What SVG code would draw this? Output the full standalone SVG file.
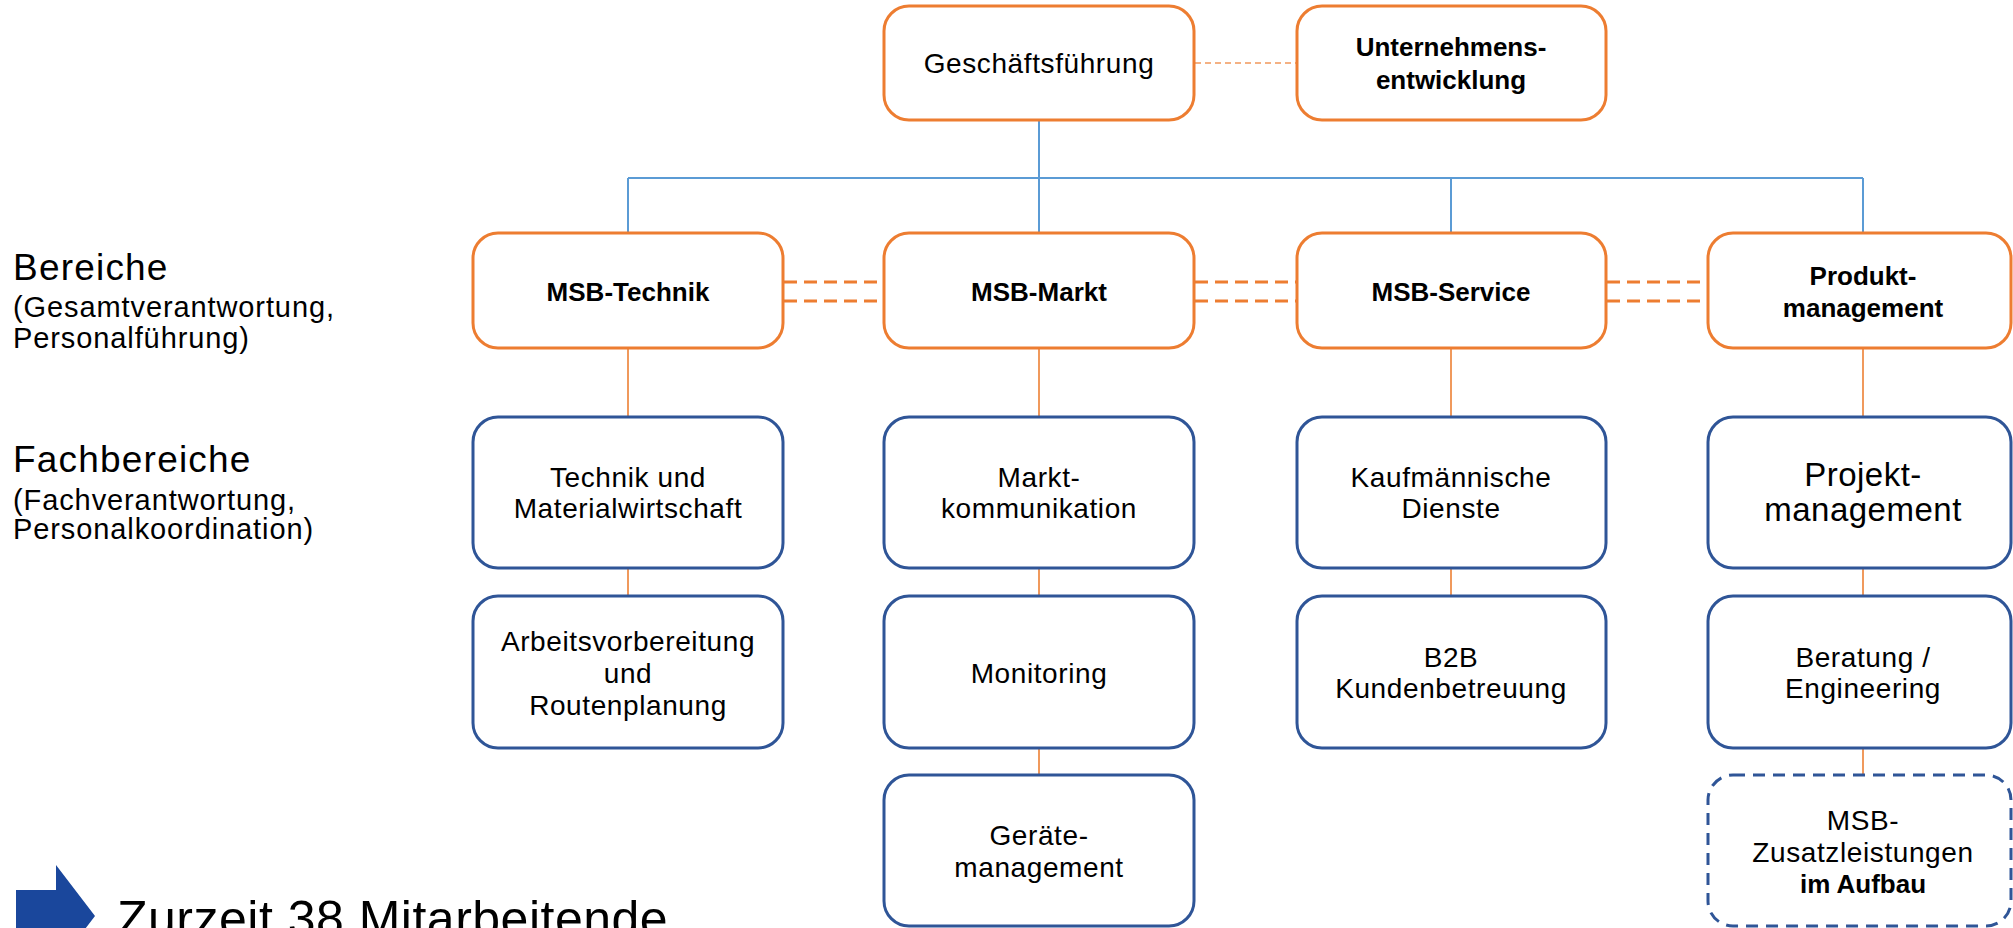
<svg xmlns="http://www.w3.org/2000/svg" width="2013" height="928" viewBox="0 0 2013 928">
<style>
  .ob { fill: #ffffff; stroke: #ED7D31; stroke-width: 3; }
  .bb { fill: #ffffff; stroke: #2F5597; stroke-width: 3; }
  .db { fill: #ffffff; stroke: #2F5597; stroke-width: 3; stroke-dasharray: 12 8; }
  .t { font-family: "Liberation Sans", Arial, sans-serif; font-size: 28px; letter-spacing: 0.6px; fill: #000000; text-anchor: middle; }
  .tb { font-family: "Liberation Sans", Arial, sans-serif; font-size: 26px; font-weight: bold; fill: #000000; text-anchor: middle; }
  .tl { font-family: "Liberation Sans", Arial, sans-serif; font-size: 33px; letter-spacing: 0.5px; fill: #000000; text-anchor: middle; }
  .lab { font-family: "Liberation Sans", Arial, sans-serif; font-size: 37px; letter-spacing: 1.2px; fill: #000000; }
  .sub { font-family: "Liberation Sans", Arial, sans-serif; font-size: 29px; letter-spacing: 0.9px; fill: #000000; }
  .cb { stroke: #5B9BD5; stroke-width: 2; fill: none; }
  .co { stroke: #F0995C; stroke-width: 2; fill: none; }
  .cd { stroke: #ED7D31; stroke-width: 3; stroke-dasharray: 13 7; fill: none; }
  .cdl { stroke: #F4B183; stroke-width: 2; stroke-dasharray: 6 4; fill: none; }
</style>

<g id="connectors">
  <line class="cdl" x1="1195" y1="63" x2="1296" y2="63"/>
  <line class="cb" x1="1039" y1="120" x2="1039" y2="233"/>
  <line class="cb" x1="628" y1="178" x2="1863" y2="178"/>
  <line class="cb" x1="628" y1="178" x2="628" y2="233"/>
  <line class="cb" x1="1451" y1="178" x2="1451" y2="233"/>
  <line class="cb" x1="1863" y1="178" x2="1863" y2="233"/>
  <line class="cd" x1="784" y1="282" x2="884" y2="282"/>
  <line class="cd" x1="784" y1="301" x2="884" y2="301"/>
  <line class="cd" x1="1195" y1="282" x2="1296" y2="282"/>
  <line class="cd" x1="1195" y1="301" x2="1296" y2="301"/>
  <line class="cd" x1="1607" y1="282" x2="1708" y2="282"/>
  <line class="cd" x1="1607" y1="301" x2="1708" y2="301"/>
  <line class="co" x1="628" y1="349" x2="628" y2="417"/>
  <line class="co" x1="1039" y1="349" x2="1039" y2="417"/>
  <line class="co" x1="1451" y1="349" x2="1451" y2="417"/>
  <line class="co" x1="1863" y1="349" x2="1863" y2="417"/>
  <line class="co" x1="628" y1="568" x2="628" y2="596"/>
  <line class="co" x1="1039" y1="568" x2="1039" y2="596"/>
  <line class="co" x1="1451" y1="568" x2="1451" y2="596"/>
  <line class="co" x1="1863" y1="568" x2="1863" y2="596"/>
  <line class="co" x1="1039" y1="748" x2="1039" y2="775"/>
  <line class="co" x1="1863" y1="748" x2="1863" y2="775"/>
</g>

<g id="gf">
  <rect class="ob" x="884" y="6" width="310" height="114" rx="25"/>
  <text class="t" x="1039" y="73">Geschäftsführung</text>
</g>
<g id="ue">
  <rect class="ob" x="1297" y="6" width="309" height="114" rx="25"/>
  <text class="tb" x="1451" y="56">Unternehmens-</text>
  <text class="tb" x="1451" y="89">entwicklung</text>
</g>

<g id="msb-technik">
  <rect class="ob" x="473" y="233" width="310" height="115" rx="25"/>
  <text class="tb" x="628" y="301">MSB-Technik</text>
</g>
<g id="msb-markt">
  <rect class="ob" x="884" y="233" width="310" height="115" rx="25"/>
  <text class="tb" x="1039" y="301">MSB-Markt</text>
</g>
<g id="msb-service">
  <rect class="ob" x="1297" y="233" width="309" height="115" rx="25"/>
  <text class="tb" x="1451" y="301">MSB-Service</text>
</g>
<g id="produktmanagement">
  <rect class="ob" x="1708" y="233" width="303" height="115" rx="25"/>
  <text class="tb" x="1863" y="285">Produkt-</text>
  <text class="tb" x="1863" y="317">management</text>
</g>

<g id="technik-material">
  <rect class="bb" x="473" y="417" width="310" height="151" rx="25"/>
  <text class="t" x="628" y="487">Technik und</text>
  <text class="t" x="628" y="518">Materialwirtschaft</text>
</g>
<g id="marktkommunikation">
  <rect class="bb" x="884" y="417" width="310" height="151" rx="25"/>
  <text class="t" x="1039" y="487">Markt-</text>
  <text class="t" x="1039" y="518">kommunikation</text>
</g>
<g id="kaufm-dienste">
  <rect class="bb" x="1297" y="417" width="309" height="151" rx="25"/>
  <text class="t" x="1451" y="487">Kaufmännische</text>
  <text class="t" x="1451" y="518">Dienste</text>
</g>
<g id="projektmanagement">
  <rect class="bb" x="1708" y="417" width="303" height="151" rx="25"/>
  <text class="tl" x="1863" y="486">Projekt-</text>
  <text class="tl" x="1863" y="521">management</text>
</g>

<g id="arbeitsvorbereitung">
  <rect class="bb" x="473" y="596" width="310" height="152" rx="25"/>
  <text class="t" x="628" y="651">Arbeitsvorbereitung</text>
  <text class="t" x="628" y="683">und</text>
  <text class="t" x="628" y="715">Routenplanung</text>
</g>
<g id="monitoring">
  <rect class="bb" x="884" y="596" width="310" height="152" rx="25"/>
  <text class="t" x="1039" y="683">Monitoring</text>
</g>
<g id="b2b">
  <rect class="bb" x="1297" y="596" width="309" height="152" rx="25"/>
  <text class="t" x="1451" y="667">B2B</text>
  <text class="t" x="1451" y="698">Kundenbetreuung</text>
</g>
<g id="beratung">
  <rect class="bb" x="1708" y="596" width="303" height="152" rx="25"/>
  <text class="t" x="1863" y="667">Beratung /</text>
  <text class="t" x="1863" y="698">Engineering</text>
</g>

<g id="geraetemanagement">
  <rect class="bb" x="884" y="775" width="310" height="151" rx="25"/>
  <text class="t" x="1039" y="845">Geräte-</text>
  <text class="t" x="1039" y="877">management</text>
</g>
<g id="zusatzleistungen">
  <rect class="db" x="1708" y="775" width="303" height="151" rx="25"/>
  <text class="t" x="1863" y="830">MSB-</text>
  <text class="t" x="1863" y="862">Zusatzleistungen</text>
  <text class="tb" x="1863" y="893">im Aufbau</text>
</g>

<g id="legend-bereiche">
  <text class="lab" x="13" y="280">Bereiche</text>
  <text class="sub" x="13" y="317">(Gesamtverantwortung,</text>
  <text class="sub" x="13" y="348">Personalführung)</text>
</g>
<g id="legend-fachbereiche">
  <text class="lab" x="13" y="472">Fachbereiche</text>
  <text class="sub" x="13" y="510">(Fachverantwortung,</text>
  <text class="sub" x="13" y="539">Personalkoordination)</text>
</g>

<g id="mitarbeitende">
  <polygon points="16,890 56,890 56,865 95,916 56,967 56,942 16,942" fill="#1A479C"/>
  <text font-family="'Liberation Sans', Arial, sans-serif" font-size="50" letter-spacing="0.5" x="117" y="936" fill="#000000">Zurzeit 38 Mitarbeitende</text>
</g>
</svg>
